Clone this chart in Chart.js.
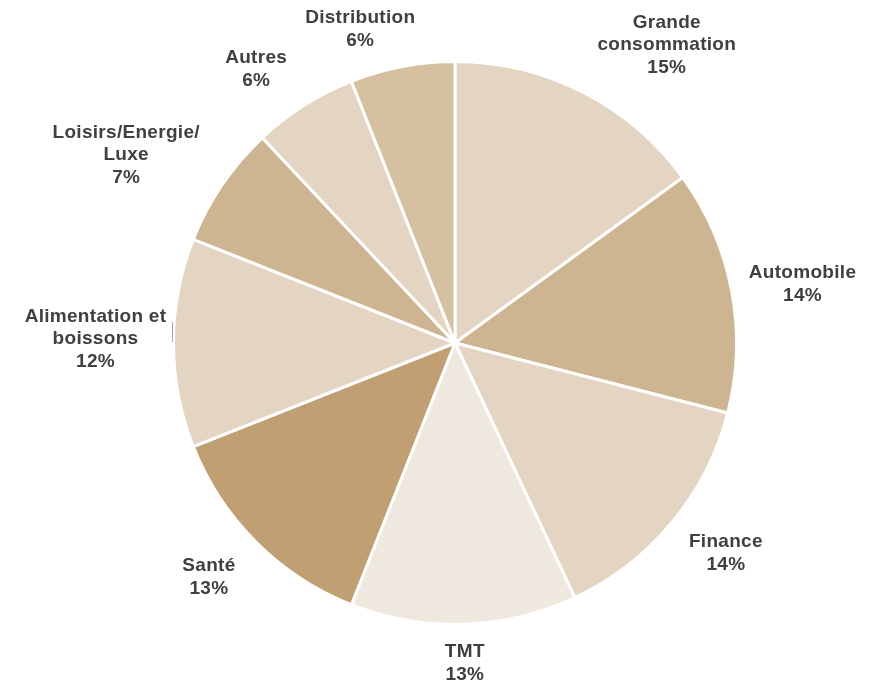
<!DOCTYPE html>
<html>
<head>
<meta charset="utf-8">
<script src="https://cdn.jsdelivr.net/npm/chart.js@4"></script>
<style>
  body { margin: 0; background: #fff; }
</style>
</head>
<body>
<canvas id="secteurs" width="871" height="684"></canvas>
<script>
const secteurs = [
  ['Grande', 'consommation'],
  ['Automobile'],
  ['Finance'],
  ['TMT'],
  ['Santé'],
  ['Alimentation et', 'boissons'],
  ['Loisirs/Energie/', 'Luxe'],
  ['Autres'],
  ['Distribution']
];
const parts = [15, 14, 14, 13, 13, 12, 7, 6, 6];

const couleurs = ['#E3D5C1', '#CEB591', '#E3D5C1', '#EFE8DF', '#C0A073', '#E3D5C1', '#CEB591', '#E3D5C1', '#D5C09F'];
// décalage des étiquettes depuis le bord extérieur de chaque part
const decalages = [[84, -47], [71, -6], [54, 31], [1, 39], [-47, 35], [-78, -4], [-96, -30], [-48, -36], [-42, -37]];

const etiquettes = {
  id: 'etiquettes',
  afterDatasetsDraw(chart) {
    const ctx = chart.ctx;
    const meta = chart.getDatasetMeta(0);
    ctx.save();
    ctx.font = 'bold 19px "Liberation Sans", Arial, sans-serif';
    ctx.fillStyle = '#404040';
    ctx.textAlign = 'center';
    ctx.textBaseline = 'middle';
    if ('letterSpacing' in ctx) ctx.letterSpacing = '0.3px';
    meta.data.forEach((arc, i) => {
      const p = arc.getProps(['x', 'y', 'startAngle', 'endAngle', 'outerRadius'], true);
      const a = (p.startAngle + p.endAngle) / 2;
      const x = p.x + Math.cos(a) * p.outerRadius + decalages[i][0];
      const y = p.y + Math.sin(a) * p.outerRadius + decalages[i][1];
      const lignes = secteurs[i].concat([parts[i] + '%']);
      const h = 22.5;
      lignes.forEach((t, k) => {
        ctx.fillText(t, x, y + (k - (lignes.length - 1) / 2) * h);
      });
    });
    // petit trait gris près de "Alimentation et boissons"
    ctx.strokeStyle = '#A6A6A6';
    ctx.lineWidth = 1;
    ctx.beginPath();
    ctx.moveTo(172.5, 322);
    ctx.lineTo(172.5, 342);
    ctx.stroke();
    ctx.restore();
  }
};

const ctx = document.getElementById('secteurs').getContext('2d');
const graphique = new Chart(ctx, {
  type: 'pie',
  data: {
    labels: secteurs,
    datasets: [{
      data: parts,
      backgroundColor: couleurs,
      borderColor: '#ffffff',
      borderWidth: 3
    }]
  },
  options: {
    responsive: false,
    animation: false,
    layout: {
      padding: { top: 60, bottom: 58, left: 172, right: 133 }
    },
    plugins: {
      legend: { display: false },
      tooltip: { enabled: false }
    }
  },
  plugins: [etiquettes]
});
</script>
</body>
</html>
